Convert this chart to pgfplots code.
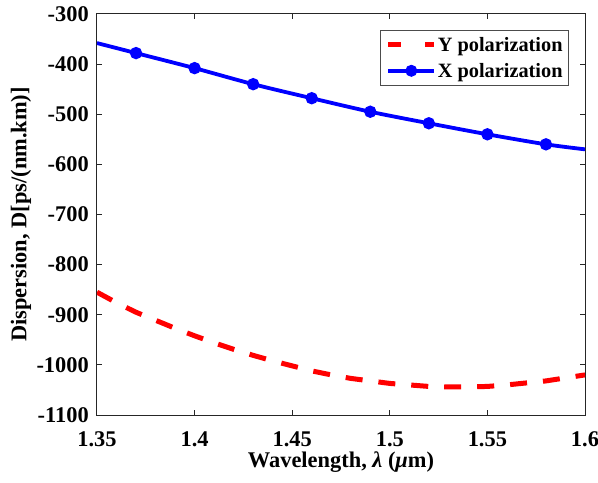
\documentclass[border=0pt]{standalone}
\usepackage{fontspec}
\setmainfont{Liberation Serif}
\usepackage{pgfplots}
\pgfplotsset{compat=1.18}
\newcommand\ff{\fontsize{22.5}{26}\selectfont\bfseries}
\newcommand\lf{\fontsize{20.4}{24}\selectfont\bfseries}
\newcommand\tl[1]{\textbf{\ff #1}}
\definecolor{myred}{RGB}{255,0,0}
\definecolor{myblue}{RGB}{0,0,255}
\pgfplotsset{
  redleg/.style={legend image code/.code={\draw[##1, dash pattern=on 13bp off 24bp] (0,0) -- (46bp,0);}},
  blueleg/.style={legend image code/.code={\draw[##1] (0,0) -- (46bp,0); \filldraw[myblue, line width=1bp] (23bp,0) circle (5.5bp);}},
}
\begin{document}
\begin{tikzpicture}
\begin{axis}[
  scale only axis,
  width=488bp, height=401bp,
  xmin=1.35, xmax=1.6,
  ymin=-1100, ymax=-300,
  xtick={1.35,1.4,1.45,1.5,1.55,1.6},
  xticklabels={\tl{1.35},\tl{1.4},\tl{1.45},\tl{1.5},\tl{1.55},\tl{1.6}},
  ytick={-1100,-1000,-900,-800,-700,-600,-500,-400,-300},
  yticklabels={\tl{-1100},\tl{-1000},\tl{-900},\tl{-800},\tl{-700},\tl{-600},\tl{-500},\tl{-400},\tl{-300}},
  tick label style={font=\ff},
  xticklabel style={anchor=base, yshift=-31.7bp, inner sep=0pt},
  yticklabel style={anchor=east, xshift=-8bp, inner sep=0pt},
  label style={font=\ff},
  xlabel={Wavelength, \textit{λ} (\textit{μ}m)},
  ylabel={Dispersion, D[ps/(nm.km)]},
  xlabel style={at={(axis description cs:0.5,0)}, anchor=base, yshift=-52bp},
  ylabel style={at={([xshift=-76bp]axis description cs:0,0.5)}, anchor=center},
  tick align=inside,
  major tick length=5bp,
  axis line style={line width=1bp, black!85},
  tick style={line width=1bp, black!85},
  legend style={font=\lf, at={(rel axis cs:1,1)}, xshift=-16bp, yshift=-16bp,
    anchor=north east, draw=black!70, line width=0.8bp,
    inner xsep=5bp, inner ysep=5.5bp, row sep=8.5bp,
    nodes={inner sep=1bp}},
  legend cell align=left,
]
\addplot[myred, line width=5bp, dash pattern=on 17bp off 16bp, redleg]
  coordinates {
  (1.35,-855) (1.36,-876) (1.37,-895) (1.38,-911) (1.39,-927)
  (1.40,-942) (1.41,-956) (1.42,-969) (1.43,-981) (1.44,-992)
  (1.45,-1002) (1.46,-1012) (1.47,-1020) (1.48,-1027) (1.49,-1032)
  (1.50,-1037) (1.51,-1040) (1.52,-1043) (1.53,-1044) (1.54,-1044)
  (1.55,-1043) (1.56,-1040) (1.57,-1036) (1.58,-1032) (1.59,-1026)
  (1.60,-1020)
};
\addlegendentry{Y polarization}
\addplot[myblue, line width=3.8bp, smooth, mark=*, mark size=4.2bp,
  mark options={solid, fill=myblue}, mark indices={2,3,4,5,6,7,8,9}, blueleg]
  coordinates {
  (1.35,-358) (1.37,-378) (1.40,-408) (1.43,-440) (1.46,-468)
  (1.49,-495) (1.52,-518) (1.55,-540) (1.58,-560) (1.60,-570)
};
\addlegendentry{X polarization}
\coordinate (bl) at (rel axis cs:0,0);
\coordinate (tr) at (rel axis cs:1,1);
\end{axis}
\pgfresetboundingbox
\path ([shift={(-97bp,-68bp)}]bl) rectangle ([shift={(13bp,14bp)}]tr);
\end{tikzpicture}
\end{document}
